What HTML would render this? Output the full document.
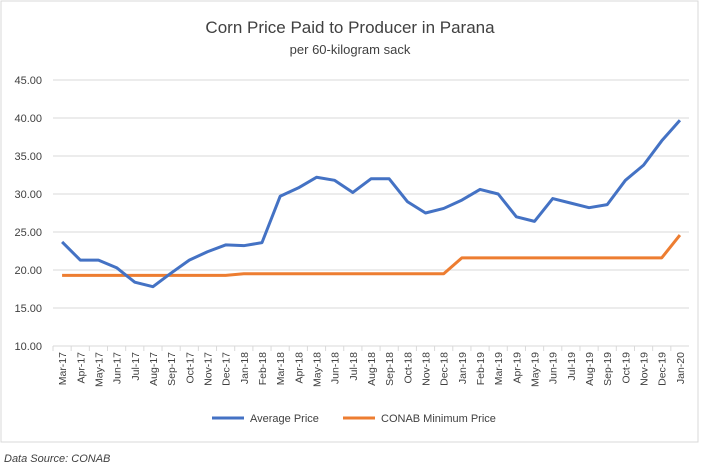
<!DOCTYPE html>
<html><head><meta charset="utf-8"><style>
body{margin:0;background:#fff;font-family:"Liberation Sans",sans-serif;}
</style></head><body>
<svg width="701" height="469" xmlns="http://www.w3.org/2000/svg">
<rect x="1" y="1" width="697" height="441" fill="#fff" stroke="#d9d9d9"/>
<text x="350" y="33" text-anchor="middle" font-size="17" fill="#404040">Corn Price Paid to Producer in Parana</text>
<text x="350" y="54" text-anchor="middle" font-size="13" fill="#404040">per 60-kilogram sack</text>
<g id="grid"></g><g id="xl"></g><g id="lines"></g>
<g>
<line x1="212" y1="418" x2="244" y2="418" stroke="#4472c4" stroke-width="3"/>
<text x="250" y="422" font-size="11" fill="#404040">Average Price</text>
<line x1="343" y1="418" x2="375" y2="418" stroke="#ed7d31" stroke-width="3"/>
<text x="381" y="422" font-size="11" fill="#404040">CONAB Minimum Price</text>
</g>
<text x="4" y="462" font-size="11" font-style="italic" fill="#404040">Data Source: CONAB</text>
</svg>
<script>
const categories=["Mar-17","Apr-17","May-17","Jun-17","Jul-17","Aug-17","Sep-17","Oct-17","Nov-17","Dec-17","Jan-18","Feb-18","Mar-18","Apr-18","May-18","Jun-18","Jul-18","Aug-18","Sep-18","Oct-18","Nov-18","Dec-18","Jan-19","Feb-19","Mar-19","Apr-19","May-19","Jun-19","Jul-19","Aug-19","Sep-19","Oct-19","Nov-19","Dec-19","Jan-20"];
const avgPrice=[23.7,21.3,21.3,20.3,18.4,17.8,19.6,21.3,22.4,23.3,23.2,23.6,29.7,30.8,32.2,31.8,30.2,32.0,32.0,29.0,27.5,28.1,29.2,30.6,30.0,27.0,26.4,29.4,28.8,28.2,28.6,31.8,33.8,37.0,39.7];
const minPrice=[19.3,19.3,19.3,19.3,19.3,19.3,19.3,19.3,19.3,19.3,19.5,19.5,19.5,19.5,19.5,19.5,19.5,19.5,19.5,19.5,19.5,19.5,21.6,21.6,21.6,21.6,21.6,21.6,21.6,21.6,21.6,21.6,21.6,21.6,24.6];
const yTicks=[10,15,20,25,30,35,40,45];
const NS="http://www.w3.org/2000/svg";
const x0=53,x1=689,yb=346,yt=80;
const step=(x1-x0)/categories.length;
const xs=i=>x0+step*(i+0.5);
const ys=v=>yb-(v-10)/35*(yb-yt);
function mk(t,a,p){const e=document.createElementNS(NS,t);for(const k in a)e.setAttribute(k,a[k]);p.appendChild(e);return e;}
const g=document.getElementById('grid');
yTicks.forEach(v=>{
 const l=mk('line',{x1:x0,x2:x1,y1:ys(v),y2:ys(v),stroke:'#d9d9d9','stroke-width':1},g);
 
 
 const t=mk('text',{x:42,y:ys(v)+4,'text-anchor':'end','font-size':11,fill:'#404040'},g);
 t.textContent=v.toFixed(2);
 
 
});
const xl=document.getElementById('xl');
categories.forEach((c,i)=>{
 const tk=mk('line',{x1:x0+step*i,x2:x0+step*i,y1:yb,y2:yb+5,stroke:'#d9d9d9'},xl);
 
 
 const x=xs(i)+4;
 const t=mk('text',{x:x,y:352,'text-anchor':'end','font-size':10.5,fill:'#404040',transform:`rotate(-90 ${x} 352)`},xl);
 t.textContent=c;
 
 
});
const lg=document.getElementById('lines');
function line(vals,col,name){
 const p=mk('polyline',{points:vals.map((v,i)=>xs(i)+','+ys(v)).join(' '),fill:'none',stroke:col,'stroke-width':3,'stroke-linejoin':'round'},lg);
 
 
}
line(minPrice,'#ed7d31','conab-minimum-price-line');
line(avgPrice,'#4472c4','average-price-line');
</script>
</body></html>
